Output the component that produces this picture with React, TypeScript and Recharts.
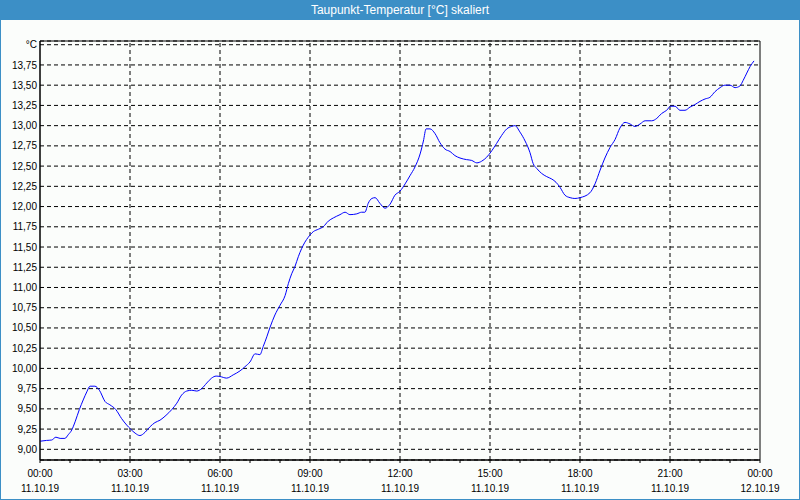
import React from 'react';
import { LineChart, Line, XAxis, YAxis, CartesianGrid, ReferenceLine, ReferenceArea } from 'recharts';

// hours since 11.10.19 00:00
const hours = [
  0, 0.22, 0.39, 0.53, 0.67, 0.83, 0.94, 1.06, 1.17, 1.31, 1.44, 1.56, 1.67, 1.83, 1.98,
  2.17, 2.33, 2.53, 2.72, 2.89, 3.02, 3.17, 3.33, 3.5, 3.67, 3.83, 4.0, 4.2, 4.39, 4.56,
  4.72, 4.89, 5.06, 5.22, 5.39, 5.56, 5.72, 5.87, 6.0, 6.22, 6.44, 6.67, 6.83, 7.0, 7.17,
  7.33, 7.44, 7.56, 7.67, 7.83, 8.0, 8.17, 8.28, 8.39, 8.5, 8.61, 8.72, 8.83, 8.94, 9.11,
  9.28, 9.44, 9.61, 9.78, 10.0, 10.17, 10.33, 10.56, 10.72, 10.83, 10.94, 11.06, 11.17, 11.33,
  11.5, 11.67, 11.83, 12.0, 12.17, 12.33, 12.5, 12.67, 12.78, 12.87, 13.0, 13.17, 13.33, 13.5,
  13.67, 13.83, 14.0, 14.22, 14.39, 14.56, 14.72, 14.89, 15.06, 15.22, 15.39, 15.56, 15.72,
  15.83, 16.0, 16.17, 16.33, 16.44, 16.56, 16.72, 16.89, 17.06, 17.2, 17.33, 17.5, 17.67,
  17.83, 18.0, 18.33, 18.5, 18.67, 18.83, 19.0, 19.17, 19.33, 19.5, 19.67, 19.83, 20.0, 20.17,
  20.39, 20.56, 20.72, 20.89, 21.02, 21.17, 21.33, 21.5, 21.67, 21.83, 22.0, 22.17, 22.33,
  22.5, 22.67, 22.83, 23.0, 23.17, 23.33, 23.44, 23.56, 23.67, 23.8,
];

const dewPoint = [
  9.1, 9.11, 9.115, 9.15, 9.135, 9.135, 9.18, 9.24, 9.34, 9.49, 9.61, 9.71, 9.78, 9.78, 9.73,
  9.59, 9.55, 9.49, 9.38, 9.3, 9.25, 9.2, 9.17, 9.21, 9.28, 9.33, 9.36, 9.42, 9.49, 9.57,
  9.67, 9.72, 9.73, 9.72, 9.75, 9.82, 9.88, 9.905, 9.9, 9.88, 9.92, 9.97, 10.02, 10.08, 10.18,
  10.17, 10.27, 10.39, 10.51, 10.66, 10.78, 10.9, 11.05, 11.17, 11.26, 11.38, 11.48, 11.56, 11.62, 11.69,
  11.72, 11.75, 11.82, 11.86, 11.9, 11.93, 11.9, 11.91, 11.93, 11.93, 12.04, 12.1, 12.11, 12.04,
  11.98, 12.03, 12.14, 12.19, 12.28, 12.38, 12.49, 12.65, 12.81, 12.96, 12.96, 12.9, 12.79, 12.71,
  12.68, 12.63, 12.6, 12.58, 12.57, 12.54, 12.56, 12.61, 12.69, 12.78, 12.88, 12.96, 12.99,
  13.0, 12.92, 12.81, 12.67, 12.53, 12.47, 12.41, 12.37, 12.34, 12.3, 12.24, 12.14, 12.11,
  12.1, 12.11, 12.17, 12.28, 12.45, 12.6, 12.73, 12.83, 12.97, 13.04, 13.02, 12.99, 13.02, 13.06,
  13.06, 13.09, 13.15, 13.19, 13.24, 13.24, 13.19, 13.19, 13.23, 13.26, 13.3, 13.33, 13.35,
  13.42, 13.47, 13.5, 13.5, 13.47, 13.49, 13.56, 13.65, 13.73, 13.8,
];

const yTicks = [9, 9.25, 9.5, 9.75, 10, 10.25, 10.5, 10.75, 11, 11.25, 11.5, 11.75, 12, 12.25, 12.5, 12.75, 13, 13.25, 13.5, 13.75, 14];
const hourTicks = Array.from({ length: 25 }, (_, i) => i);
const gridHours = [3, 6, 9, 12, 15, 18, 21];
const dayLabels = ['11.10.19', '12.10.19'];

const data = hours.map((h, i) => ({ h, v: dewPoint[i] }));

const FONT = '"Liberation Sans", Arial, sans-serif';
const BLUE = '#3c8fc6';

const TimeTick = (props: any) => {
  const { x, y, payload } = props;
  const h = payload.value as number;
  if (h % 3 !== 0) return null;
  const hh = String(h % 24).padStart(2, '0') + ':00';
  const day = h >= 24 ? dayLabels[1] : dayLabels[0];
  return (
    <g>
      <text x={x} y={y} dy={12} textAnchor="middle" fontSize={10} fontFamily={FONT} fill="#000">{hh}</text>
      <text x={x} y={y} dy={27} textAnchor="middle" fontSize={10} fontFamily={FONT} fill="#000">{day}</text>
    </g>
  );
};

const fmtY = (v: number) => (v === 14 ? '°C' : v.toFixed(2).replace('.', ','));

export default function App() {
  return (
    <div
      style={{
        position: 'fixed',
        left: 0,
        top: 0,
        width: 800,
        height: 500,
        boxSizing: 'border-box',
        background: '#fbfdfb',
        border: `1px solid ${BLUE}`,
        borderTop: 'none',
        overflow: 'hidden',
      }}
    >
      <div
        style={{
          position: 'absolute',
          left: -1,
          top: 0,
          width: 800,
          height: 20,
          background: BLUE,
          color: '#fff',
          fontFamily: FONT,
          fontSize: 12,
          lineHeight: '20px',
          textAlign: 'center',
        }}
      >
        Taupunkt-Temperatur [°C] skaliert
      </div>
      <div style={{ position: 'absolute', left: -1, top: 0 }}>
        <LineChart width={800} height={500} data={data} margin={{ top: 41, right: 40, bottom: 0, left: 0 }}>
          <CartesianGrid vertical={false} stroke="#000" strokeDasharray="4 3" />
          <XAxis
            dataKey="h"
            type="number"
            domain={[0, 24]}
            ticks={hourTicks}
            interval={0}
            height={40}
            stroke="#000"
            tickSize={3}
            tickMargin={2}
            tick={<TimeTick />}
          />
          <YAxis
            type="number"
            domain={[8.868, 14.046]}
            ticks={yTicks}
            interval={0}
            width={40}
            tickLine={false}
            tickSize={1}
            tickMargin={2}
            stroke="#000"
            tickFormatter={fmtY}
            tick={{ fontSize: 10, fontFamily: FONT, fill: '#000' }}
          />
          {gridHours.map((g) => (
            <ReferenceLine key={g} x={g} stroke="#000" strokeDasharray="4 3" />
          ))}
          <ReferenceArea x1={0} x2={24} y1={8.868} y2={14.046} fill="none" stroke="#000" strokeWidth={1} />
          <Line
            type="monotone"
            dataKey="v"
            stroke="#0000ff"
            strokeWidth={1}
            dot={false}
            isAnimationActive={false}
          />
        </LineChart>
      </div>
    </div>
  );
}
